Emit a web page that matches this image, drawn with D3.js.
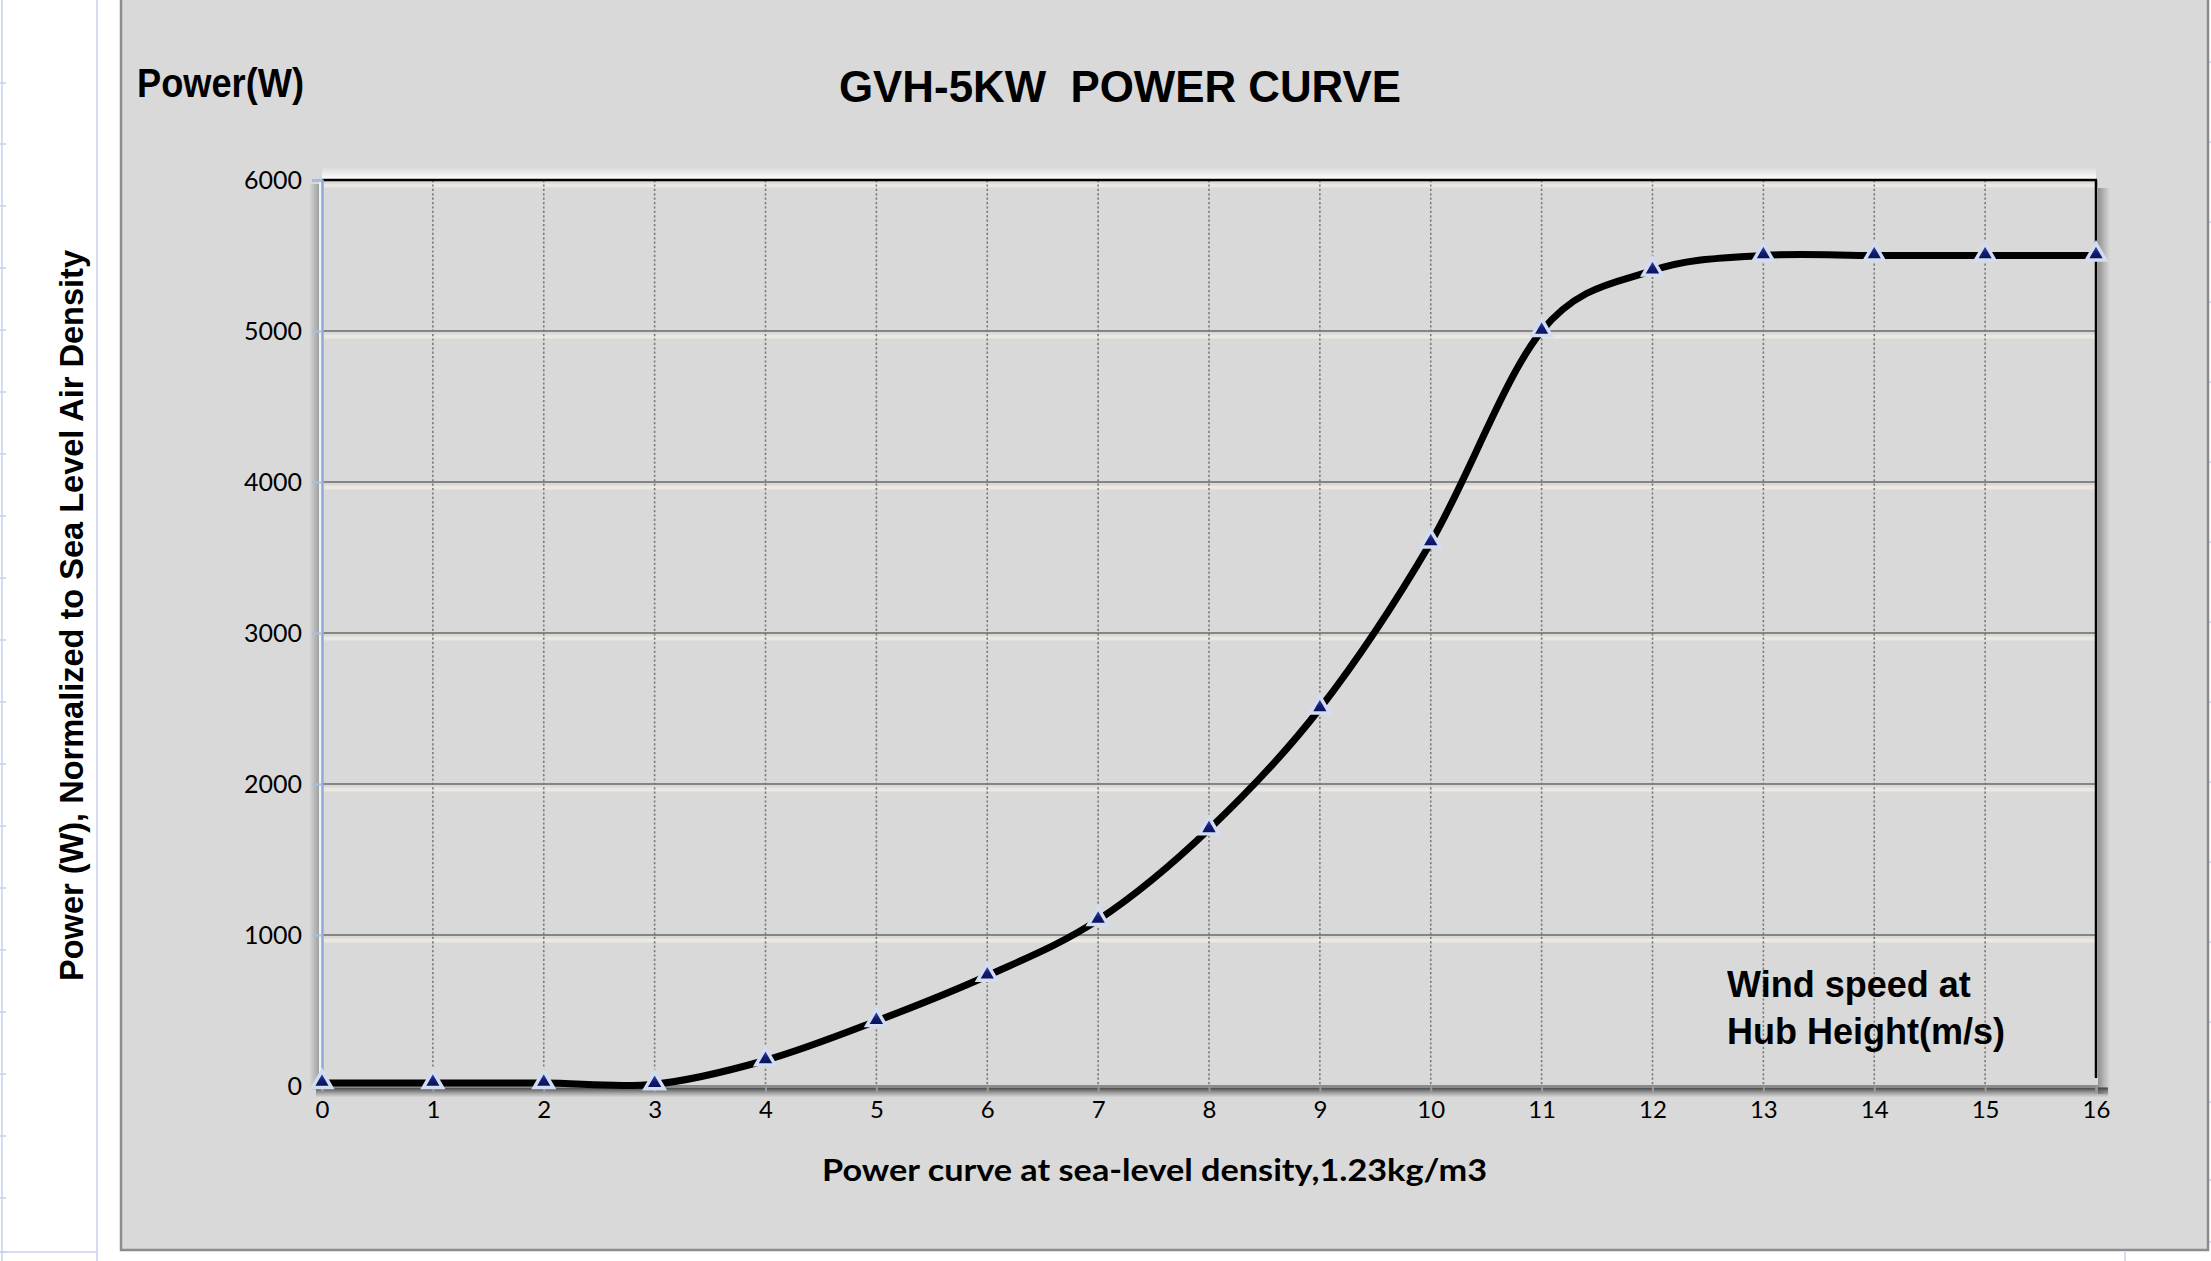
<!DOCTYPE html>
<html>
<head>
<meta charset="utf-8">
<script src="https://cdn.jsdelivr.net/npm/d3@7"></script>
<style>
  html, body { margin: 0; padding: 0; background: #ffffff; }
  svg { display: block; }
  text { white-space: pre; }
</style>
</head>
<body>
<svg id="chart" width="2211" height="1261"></svg>
<script>
// ---- data ----
const windSpeeds = [0, 1, 2, 3, 4, 5, 6, 7, 8, 9, 10, 11, 12, 13, 14, 15, 16];
const powerValues = [20, 20, 20, 12, 170, 430, 730, 1100, 1700, 2500, 3600, 5000, 5400, 5500, 5500, 5500, 5500];
const yTicks = [0, 1000, 2000, 3000, 4000, 5000, 6000];
const xTicks = [0, 1, 2, 3, 4, 5, 6, 7, 8, 9, 10, 11, 12, 13, 14, 15, 16];
const chartTitle = "GVH-5KW  POWER CURVE";
const unitLabel = "Power(W)";
const yTitle = "Power (W), Normalized to Sea Level Air Density";
const xTitle = "Power curve at sea-level density,1.23kg/m3";
const noteLines = ["Wind speed at", "Hub Height(m/s)"];

const svg = d3.select("#chart");
const W = 2211, H = 1261;
const plot = { left: 322, right: 2096, top: 180, bottom: 1086 };

const x = d3.scaleLinear().domain([0, 16]).range([plot.left, plot.right]);
const y = d3.scaleLinear().domain([0, 6000]).range([plot.bottom, plot.top]);

// ---- defs ----
const defs = svg.append("defs");
function grad(id, x1, y1, x2, y2, stops) {
  const g = defs.append("linearGradient").attr("id", id)
    .attr("x1", x1).attr("y1", y1).attr("x2", x2).attr("y2", y2);
  stops.forEach(s => g.append("stop").attr("offset", s[0]).attr("stop-color", s[1]).attr("stop-opacity", s[2]));
}
grad("glowTop", 0, 0, 0, 1, [[0, "#ffffff", 0], [1, "#ffffff", 0.95]]);
grad("shLeft", 0, 0, 1, 0, [[0, "#9a9a9a", 0], [1, "#9a9a9a", 0.9]]);
grad("shRight", 0, 0, 1, 0, [[0, "#8a8a8a", 0.9], [1, "#8a8a8a", 0]]);
grad("shBottom", 0, 0, 0, 1, [[0, "#3a3a3a", 0.95], [1, "#6a6a6a", 0]]);
grad("mk", 0, 0, 0, 1, [[0, "#4a65c0", 1], [0.55, "#121c74", 1], [1, "#0a0f50", 1]]);

// ---- spreadsheet background bits ----
const sheet = svg.append("g");
[2, 97].forEach(px => sheet.append("line").attr("x1", px).attr("x2", px).attr("y1", 0).attr("y2", H)
  .attr("stroke", "#c7d1ec").attr("stroke-width", 1.5));
[83, 144, 206, 268, 330, 392, 454, 516, 578, 640, 702, 764, 826, 888, 950, 1012, 1074, 1136, 1198, 1252].forEach(py =>
  sheet.append("line").attr("x1", 0).attr("x2", 6).attr("y1", py).attr("y2", py).attr("stroke", "#c7d1ec").attr("stroke-width", 1.5));
[1022, 1102, 1180, 1242, 942, 862, 782, 702, 622, 542, 462, 382, 302, 222, 142, 62].forEach(py =>
  sheet.append("line").attr("x1", 2209).attr("x2", W).attr("y1", py).attr("y2", py).attr("stroke", "#c7d1ec").attr("stroke-width", 1.5));
sheet.append("line").attr("x1", 2125).attr("x2", 2125).attr("y1", 1252).attr("y2", H).attr("stroke", "#c7d1ec").attr("stroke-width", 1.5);
sheet.append("line").attr("x1", 0).attr("x2", 97).attr("y1", 1252).attr("y2", 1252).attr("stroke", "#c7d1ec").attr("stroke-width", 1.5);

// ---- chart panel ----
svg.append("rect").attr("x", 121).attr("y", -6).attr("width", 2087).attr("height", 1256)
  .attr("fill", "#d9d9d9").attr("stroke", "#8c8c8c").attr("stroke-width", 2.5);

// ---- plot-area 3D effects ----
svg.append("rect").attr("x", plot.left).attr("y", plot.top - 13).attr("width", plot.right - plot.left).attr("height", 12)
  .attr("fill", "url(#glowTop)");
svg.append("rect").attr("x", plot.left - 13).attr("y", plot.top + 4).attr("width", 10).attr("height", plot.bottom - plot.top)
  .attr("fill", "url(#shLeft)");
svg.append("rect").attr("x", plot.left - 3).attr("y", plot.top + 2).attr("width", 2.5).attr("height", plot.bottom - plot.top)
  .attr("fill", "#f4f4f4");
svg.append("rect").attr("x", plot.right + 2).attr("y", plot.top + 8).attr("width", 12).attr("height", plot.bottom - plot.top)
  .attr("fill", "url(#shRight)");
svg.append("rect").attr("x", plot.left - 6).attr("y", plot.bottom + 1.5).attr("width", plot.right - plot.left + 18).attr("height", 10)
  .attr("fill", "url(#shBottom)");

// ---- grid ----
const grid = svg.append("g");
yTicks.filter(v => v > 0).forEach(v => {
  grid.append("line").attr("x1", plot.left).attr("x2", plot.right).attr("y1", y(v) + 5.5).attr("y2", y(v) + 5.5)
    .attr("stroke", "#ece7e0").attr("stroke-width", 4);
});
yTicks.filter(v => v > 0 && v < 6000).forEach(v => {
  grid.append("line").attr("x1", plot.left).attr("x2", plot.right).attr("y1", y(v)).attr("y2", y(v))
    .attr("stroke", "#858585").attr("stroke-width", 2);
});
xTicks.filter(v => v > 0 && v < 16).forEach(v => {
  grid.append("line").attr("x1", x(v)).attr("x2", x(v)).attr("y1", plot.top).attr("y2", plot.bottom)
    .attr("stroke", "#7a7a7a").attr("stroke-width", 1.6).attr("stroke-dasharray", "2.2,2.2");
});

// top & right borders
svg.append("line").attr("x1", plot.left).attr("x2", plot.right + 1).attr("y1", y(6000)).attr("y2", y(6000))
  .attr("stroke", "#000").attr("stroke-width", 2.5);
svg.append("line").attr("x1", plot.right).attr("x2", plot.right).attr("y1", plot.top).attr("y2", plot.bottom - 8)
  .attr("stroke", "#000").attr("stroke-width", 2.5);

// ---- axes ----
const xAxis = d3.axisBottom(x).tickValues(xTicks).tickSize(7).tickFormat(d3.format("d"));
const gx = svg.append("g").attr("transform", `translate(0,${plot.bottom})`).call(xAxis);
gx.select(".domain").attr("stroke", "#8a8a8a").attr("stroke-width", 3);
gx.selectAll(".tick line").attr("stroke", "#9a9a9a").attr("stroke-width", 2);
gx.selectAll(".tick text").attr("font-family", "Lato, 'Open Sans', sans-serif").attr("font-size", 24)
  .attr("fill", "#000").attr("dy", 0).attr("y", 32);

const yAxis = d3.axisLeft(y).tickValues(yTicks).tickSize(10).tickFormat(d3.format("d"));
const gy = svg.append("g").attr("transform", `translate(${plot.left},0)`).call(yAxis);
gy.select(".domain").attr("stroke", "#8eaadb").attr("stroke-width", 2.5);
gy.selectAll(".tick line").attr("stroke", "#a9bde3").attr("stroke-width", 2);
gy.selectAll(".tick text").attr("font-family", "Lato, 'Open Sans', sans-serif").attr("font-size", 25)
  .attr("fill", "#000").attr("x", -20).attr("dy", "0.34em");

// ---- curve ----
const pts = windSpeeds.map((w, i) => ({ w, p: powerValues[i] }));
const line = d3.line().x(d => x(d.w)).y(d => y(d.p)).curve(d3.curveCardinal.tension(0));
svg.append("path").datum(pts).attr("d", line).attr("fill", "none")
  .attr("stroke", "#000").attr("stroke-width", 7).attr("stroke-linejoin", "round").attr("stroke-linecap", "round");

// ---- markers ----
const tri = d3.symbol().type(d3.symbolTriangle).size(160);
svg.append("g").selectAll("path").data(pts).join("path")
  .attr("transform", d => `translate(${x(d.w)},${y(d.p) - 1})`)
  .attr("d", tri)
  .attr("fill", "url(#mk)").attr("stroke", "#d3ddf1").attr("stroke-width", 3.4).attr("stroke-linejoin", "miter");

// ---- texts ----
const arial = "'Liberation Sans', Arial, sans-serif";
svg.append("text").attr("x", 839).attr("y", 102).attr("font-family", arial).attr("font-weight", "bold")
  .attr("font-size", 45).attr("textLength", 562).attr("lengthAdjust", "spacingAndGlyphs").text(chartTitle);

svg.append("text").attr("x", 137).attr("y", 97).attr("font-family", arial).attr("font-weight", "bold")
  .attr("font-size", 40).attr("textLength", 167).attr("lengthAdjust", "spacingAndGlyphs").text(unitLabel);

svg.append("text").attr("transform", "translate(83,981) rotate(-90)").attr("font-family", arial).attr("font-weight", "bold")
  .attr("font-size", 32.5).attr("textLength", 731).attr("lengthAdjust", "spacingAndGlyphs").text(yTitle);

svg.append("text").attr("x", 822).attr("y", 1181).attr("font-family", "Lato, 'Open Sans', sans-serif").attr("font-weight", "bold")
  .attr("font-size", 31).attr("textLength", 665).attr("lengthAdjust", "spacingAndGlyphs").text(xTitle);

noteLines.forEach((t, i) => {
  svg.append("text").attr("x", 1727).attr("y", 997 + i * 47).attr("font-family", arial).attr("font-weight", "bold")
    .attr("font-size", 36).text(t);
});
</script>
</body>
</html>
